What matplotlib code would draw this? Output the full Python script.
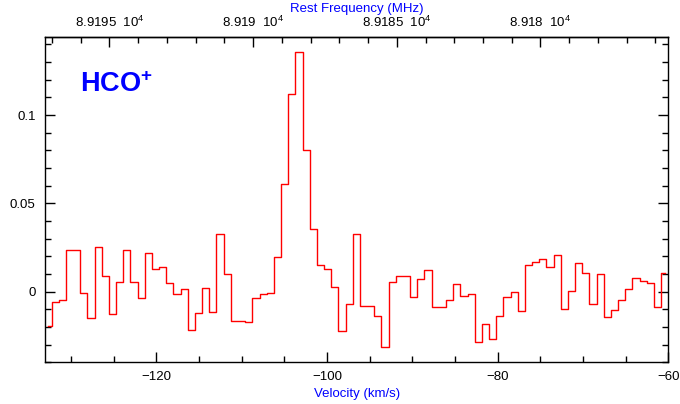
import numpy as np
import matplotlib
matplotlib.use("Agg")
import matplotlib.pyplot as plt
from matplotlib.ticker import MultipleLocator, FixedLocator, FuncFormatter

plt.rcParams["font.family"] = ["Liberation Sans", "DejaVu Sans"]
plt.rcParams["mathtext.fontset"] = "custom"
plt.rcParams["mathtext.rm"] = "Liberation Sans"
plt.rcParams["mathtext.bf"] = "Liberation Sans:bold"

# Spectrum: channel grid (km/s) and antenna temperature per channel
V_FIRST = -132.69      # centre of the first channel
DV = 0.8404            # channel width
intensity = [
    -0.0194, -0.0057, -0.0049, 0.0238, 0.0234, -0.0009, -0.0151, 0.0251,
    0.0089, -0.0125, 0.0057, 0.0238, 0.0055, -0.0038, 0.0221, 0.0130,
    0.0138, 0.0047, -0.0015, 0.0015, -0.0217, -0.0123, 0.0023, -0.0115,
    0.0325, 0.0102, -0.0164, -0.0168, -0.0174, -0.0038, -0.0015, -0.0008,
    0.0194, 0.0609, 0.1117, 0.1358, 0.0802, 0.0355, 0.0149, 0.0128,
    0.0028, -0.0221, -0.0068, 0.0326, -0.0083, -0.0079, -0.0138, -0.0315,
    0.0055, 0.0091, 0.0091, -0.0030, 0.0074, 0.0125, -0.0089, -0.0089,
    -0.0047, 0.0042, -0.0026, -0.0013, -0.0283, -0.0181, -0.0270, -0.0140,
    -0.0032, -0.0002, -0.0109, 0.0151, 0.0168, 0.0183, 0.0138, 0.0206,
    -0.0096, 0.0006, 0.0160, 0.0104, -0.0070, 0.0102, -0.0142, -0.0104,
    -0.0047, 0.0013, 0.0075, 0.0062, 0.0047, -0.0089, 0.0108,
]
velocity = V_FIRST + DV * np.arange(len(intensity))

# Rest frequency axis (MHz) tied to velocity
F_REF = 89187.43       # frequency at V_REF
V_REF = -100.0
KMS_PER_MHZ = 3.368
freq_ticks = [89195, 89190, 89185, 89180]
freq_labels = ["8.9195  10$^4$", "8.919  10$^4$", "8.9185  10$^4$", "8.918  10$^4$"]

molecule = "HCO$^{\\mathbf{+}}$"

fig = plt.figure(figsize=(6.8, 4.04), dpi=100)
ax = fig.add_axes([0.0666, 0.1032, 0.9162, 0.806])

ax.step(velocity, intensity, where="mid", color="#ff0000", lw=1.0)

ax.set_xlim(-133, -60)
ax.set_ylim(-0.040, 0.1444)

ax.xaxis.set_major_locator(MultipleLocator(20))
ax.xaxis.set_minor_locator(MultipleLocator(5))
ax.yaxis.set_major_locator(FixedLocator([0, 0.05, 0.1]))
ax.yaxis.set_minor_locator(MultipleLocator(0.01))
ax.yaxis.set_major_formatter(FuncFormatter(lambda y, p: f"{y:g}"))
ax.xaxis.set_major_formatter(FuncFormatter(lambda x, p: f"\u2212{abs(x):g}" if x < 0 else f"{x:g}"))

ax.tick_params(which="both", direction="in", right=True, top=False,
               width=1.0, colors="black", labelsize=9.5)
ax.tick_params(which="major", length=7)
ax.tick_params(which="minor", length=4)
ax.tick_params(axis="x", pad=6)
ax.tick_params(axis="y", pad=7)

for sp in ax.spines.values():
    sp.set_linewidth(1.0)

def v2f(v):
    return F_REF - (np.asarray(v) - V_REF) / KMS_PER_MHZ

def f2v(f):
    return V_REF - (np.asarray(f) - F_REF) * KMS_PER_MHZ

top = ax.secondary_xaxis("top", functions=(v2f, f2v))
top.xaxis.set_major_locator(FixedLocator(freq_ticks))
top.xaxis.set_major_formatter(FuncFormatter(
    lambda f, p: freq_labels[freq_ticks.index(int(round(f)))] if int(round(f)) in freq_ticks else ""))
top.xaxis.set_minor_locator(MultipleLocator(1))
top.tick_params(which="both", direction="in", width=1.0, labelsize=9.5, pad=5)
top.tick_params(which="major", length=7)
top.tick_params(which="minor", length=4)
top.spines["top"].set_linewidth(1.0)
top.set_xlabel("Rest Frequency (MHz)", color="#0000ff", fontsize=9.5, labelpad=2)

ax.set_xlabel("Velocity (km/s)", color="#0000ff", fontsize=9.5, labelpad=4)

ax.text(0.0557, 0.831, molecule, transform=ax.transAxes, color="#0000ff",
        fontsize=19.5, fontweight="bold", va="baseline", ha="left")

fig.savefig("out.png", dpi=100)
